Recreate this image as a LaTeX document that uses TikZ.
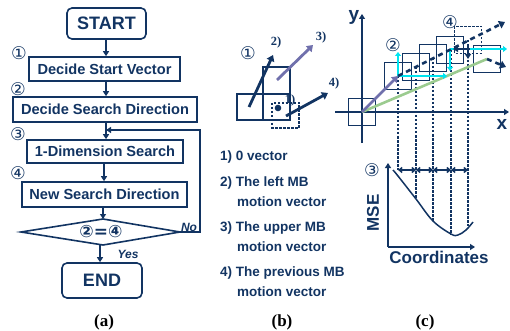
\documentclass[tikz,border=0pt]{standalone}
\usepackage{fontspec}
\setmainfont{Liberation Sans}
\newfontfamily\timesf{Liberation Serif}
\newfontfamily\djv{DejaVu Sans}
\usetikzlibrary{arrows.meta}
\definecolor{navy}{RGB}{18,52,98}
\definecolor{cyanx}{RGB}{0,228,240}
\definecolor{greenx}{RGB}{155,203,143}
\definecolor{purplex}{RGB}{112,112,172}
\tikzset{
  flow/.style={draw=navy, line width=1.6pt, text=navy, font=\bfseries\fontsize{14.6}{16}\selectfont, inner sep=0pt},
  term/.style={flow, rounded corners=5pt, font=\bfseries\fontsize{18}{20}\selectfont},
  arr/.style={draw=navy, line width=1.8pt, -{Triangle[length=5pt,width=6pt]}},
  circ/.style={text=navy, font=\djv\fontsize{17.5}{17.5}\selectfont, inner sep=0pt},
  sublbl/.style={font=\timesf\bfseries\fontsize{17}{17}\selectfont, inner sep=0pt},
  vlbl/.style={text=navy, font=\timesf\bfseries\fontsize{12.5}{13}\selectfont, inner sep=0pt},
  listtxt/.style={text=navy, anchor=west, font=\bfseries\fontsize{13.5}{14}\selectfont, inner sep=0pt},
  mb/.style={draw=navy, line width=1.2pt},
  vec/.style={line width=2.8pt, -{Triangle[length=6pt,width=8pt]}},
  cyarr/.style={draw=cyanx, line width=2.6pt, -{Triangle[length=4pt,width=6pt]}},
  dvec/.style={draw=navy, line width=2.6pt, dash pattern=on 5pt off 4pt, -{Triangle[length=6pt,width=8pt]}},
  dv/.style={draw=navy, line width=1.1pt, dash pattern=on 2.5pt off 1.5pt},
  axis/.style={draw=navy, line width=1.6pt, -{Triangle[length=5pt,width=6pt]}},
  big/.style={text=navy, font=\bfseries\fontsize{17}{18}\selectfont, inner sep=0pt}
}
\begin{document}
\begin{tikzpicture}[x=1pt,y=-1pt]
\useasboundingbox (0,0) rectangle (510,331);
% ---------------- (a) flowchart ----------------
\node[term, minimum width=79pt, minimum height=31pt] (start) at (106.5,23.5) {START};
\node[flow, minimum width=151pt, minimum height=24pt] (b1) at (104.5,69) {Decide Start Vector};
\node[flow, minimum width=184pt, minimum height=25pt] (b2) at (105,109.5) {Decide Search Direction};
\node[flow, minimum width=156pt, minimum height=23pt] (b3) at (105,151.5) {1-Dimension Search};
\node[flow, minimum width=165pt, minimum height=25pt] (b4) at (104.5,194.5) {New Search Direction};
\coordinate (dt) at (103,219);
\coordinate (db) at (103,245);
\coordinate (dl) at (21,232);
\coordinate (dr) at (180,232);
\draw[navy, line width=1.6pt] (dt) -- (dr) -- (db) -- (dl) -- cycle;
\node[text=navy, font=\djv\bfseries\fontsize{17}{17}\selectfont, inner sep=0pt] (dc) at (101,232) {②=④};
\node[term, minimum width=80pt, minimum height=35pt] (end) at (102,280.5) {END};
\draw[arr] (start.south -| 106,0) -- (b1.north -| 106,0);
\draw[arr] (b1.south -| 106,0) -- (b2.north -| 106,0);
\draw[arr] (b2.south -| 106,0) -- (b3.north -| 106,0);
\draw[arr] (b3.south -| 104,0) -- (b4.north -| 104,0);
\draw[arr] (b4.south -| 103,0) -- (dt);
\draw[arr] (db -| 100,0) -- (end.north -| 100,0);
\coordinate (fbx) at (200,130);
\coordinate (fb) at (106,130);
\draw[arr] (dr) -| (fbx) -- (fb);
\node[text=navy, font=\bfseries\itshape\fontsize{12}{12}\selectfont, inner sep=0pt] (no) at (189,227) {No};
\node[text=navy, font=\bfseries\itshape\fontsize{12}{12}\selectfont, inner sep=0pt] (yes) at (128,254) {Yes};
\node[circ] (a1) at (19,53) {①};
\node[circ] (a2) at (18,89) {②};
\node[circ] (a3) at (18,134) {③};
\node[circ] (a4) at (18,173) {④};
\node[sublbl] (la) at (104,322) {(a)};
% ---------------- (b) start vectors ----------------
\node[circ] (b1c) at (248,53) {①};
\draw[mb] (237,94) rectangle (263,120);
\draw[mb] (263,67) rectangle (290,94);
\draw[mb] (263,94) rectangle (290,120);
\draw[navy, line width=1.3pt, dash pattern=on 2.5pt off 1.5pt] (272,103) rectangle (299,128);
\fill[navy] (278,108) circle (3.3pt);
\coordinate (v2s) at (249,107);
\coordinate (v2e) at (273,55);
\coordinate (v3s) at (277,80);
\coordinate (v3e) at (313,45);
\coordinate (v4s) at (286,116);
\coordinate (v4e) at (328,93);
\draw[vec, navy] (v2s) -- (v2e);
\draw[vec, purplex] (v3s) -- (v3e);
\draw[vec, navy] (v4s) -- (v4e);
\node[vlbl] (l1) at (290,100) {1)};
\node[vlbl] (l2) at (276,42) {2)};
\node[vlbl] (l3) at (321,37) {3)};
\node[vlbl] (l4) at (334,83) {4)};
\node[listtxt] (t1) at (220,157) {1) 0 vector};
\node[listtxt] (t2) at (220,183) {2) The left MB};
\node[listtxt] (t2b) at (237,202) {motion vector};
\node[listtxt] (t3) at (220,228) {3) The upper MB};
\node[listtxt] (t3b) at (237,247) {motion vector};
\node[listtxt] (t4) at (220,273) {4) The previous MB};
\node[listtxt] (t4b) at (237,292) {motion vector};
\node[sublbl] (lb) at (282,322) {(b)};
% ---------------- (c) search ----------------
\coordinate (o) at (362,112);
\coordinate (yb) at (362,143);
\coordinate (yt) at (362,14);
\coordinate (xl) at (335,112);
\coordinate (xr) at (509,112);
\draw[axis] (yb) -- (yt);
\draw[axis] (xl) -- (xr);
\node[big, font=\bfseries\fontsize{19}{19}\selectfont] (ylab) at (354,17) {y};
\node[big, font=\bfseries\fontsize{19}{19}\selectfont] (xlab) at (502,124) {x};
\coordinate (p1) at (398,76);
\coordinate (p2) at (416,67);
\coordinate (p3) at (433,58);
\coordinate (p4) at (450,50);
\coordinate (p5) at (468,40);
\coordinate (p6) at (487,59);
\draw[mb] (348.5,98.5) rectangle (375.5,125.5);
\foreach \p in {p1,p2,p3,p4,p6} \draw[mb] ([shift={(-13.5,-13.5)}]\p) rectangle ([shift={(13.5,13.5)}]\p);
\draw[navy, line width=1.3pt, dash pattern=on 2.5pt off 1.5pt] ([shift={(-13.5,-13.5)}]p5) rectangle ([shift={(13.5,13.5)}]p5);
% dashed verticals
\draw[dv] (p1) -- (398,170);
\draw[dv] (p2) -- (416,199);
\draw[dv] (p3) -- (433,222);
\draw[dv] (p4 -| 451,0) -- (451,235);
\draw[dv] (p5) -- (468,226);
% green line and purple vector
\draw[greenx, line width=2.6pt] (o) -- (p6);
\draw[vec, purplex, line width=2.6pt] (o) -- (p1);
% cyan search arrows
\draw[cyarr] (p1) -- (398,52);
\draw[cyarr] (p1) -- (447,76);
\draw[cyarr] (450,49) -- (450,71);
\draw[cyarr] (450,49) -- (507,49);
% dark dashed motion arrows
\coordinate (de1) at (505,22);
\coordinate (de2) at (506,67);
\draw[dvec] (p1) -- (de1);
\draw[dvec] (p6) -- (de2);
\draw[navy, line width=2pt, -{Triangle[length=5pt,width=6pt]}] (470,49) -- (453,49);
\draw[navy, line width=2pt, -{Triangle[length=5pt,width=6pt]}] (468,46) -- (468,59);
\node[circ] (c2) at (393,45) {②};
\node[circ] (c4) at (450,22) {④};
% MSE graph
\node[circ] (c3) at (372,170) {③};
\coordinate (mo) at (388,247);
\coordinate (my) at (388,163);
\coordinate (mx) at (475,247);
\draw[axis] (mo) -- (my);
\draw[axis] (mo) -- (mx);
\draw[navy, line width=1.5pt] plot[smooth, tension=0.6] coordinates {(393,170) (398,176) (416,199) (433,221) (451,234) (458,235) (466,230) (473,222)};
\foreach \a/\b in {398/416,416/433,433/451,451/468}
  \draw[navy, line width=1.5pt, {Straight Barb[length=3pt,width=5pt]}-{Straight Barb[length=3pt,width=5pt]}] (\a,170) -- (\b,170);
\node[big, rotate=90] (mse) at (373,213) {MSE};
\node[big] (coord) at (439,257) {Coordinates};
\node[sublbl] (lc) at (425,322) {(c)};
\end{tikzpicture}
\end{document}
